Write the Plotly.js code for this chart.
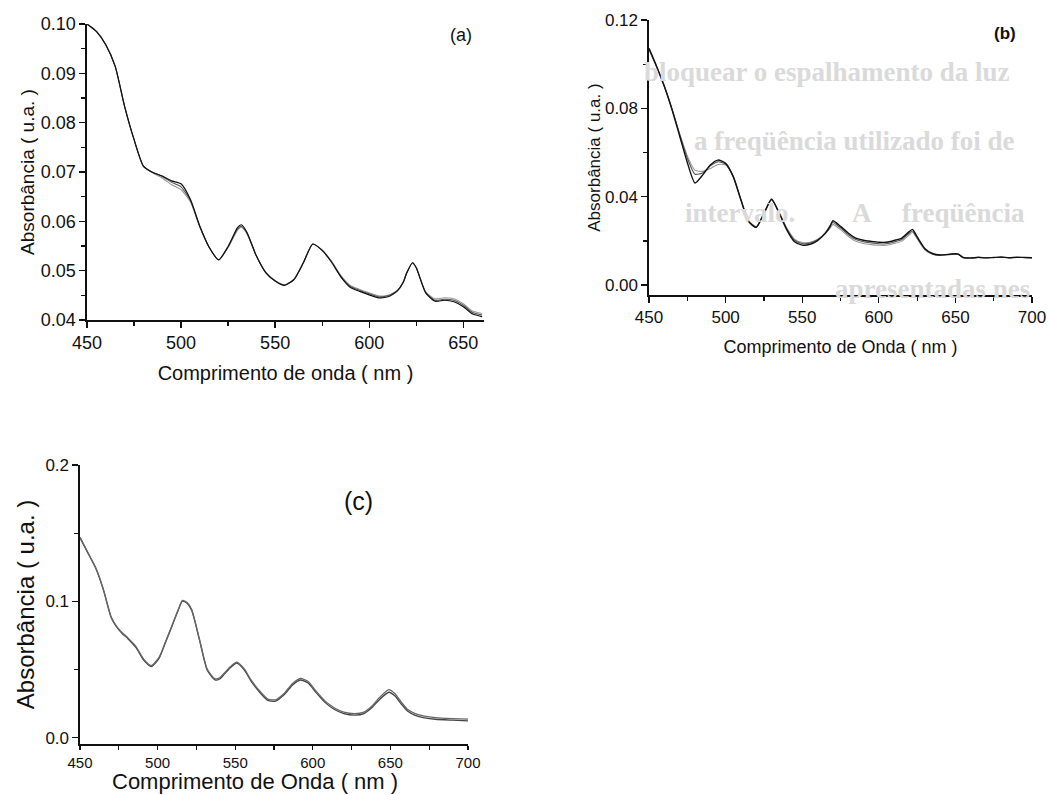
<!DOCTYPE html>
<html>
<head>
<meta charset="utf-8">
<script src="https://cdn.plot.ly/plotly-3.0.1.min.js"></script>
<style>html,body{margin:0;padding:0;background:#fff;}#chart{width:1049px;height:795px;}</style>
</head>
<body>
<div id="chart"></div>
<script>
// ---------- (a) ----------
const wlA = [450,455,460,465,470,475,480,485,490,495,500,505,510,515,520,525,530,532,535,540,545,550,555,560,565,570,575,580,585,590,595,600,605,610,615,618,620,623,625,630,635,640,645,650,655,660];
const absA1 = [0.1000,0.0985,0.0958,0.0914,0.0833,0.0766,0.0712,0.0699,0.0692,0.0682,0.0676,0.0644,0.0590,0.0547,0.0522,0.0549,0.0587,0.0593,0.0578,0.0530,0.0496,0.0479,0.0470,0.0482,0.0516,0.0554,0.0541,0.0517,0.0487,0.0466,0.0458,0.0451,0.0445,0.0447,0.0459,0.0476,0.0496,0.0516,0.0506,0.0455,0.0438,0.0440,0.0437,0.0427,0.0412,0.0407];
const absA2 = [0.1000,0.0985,0.0958,0.0914,0.0833,0.0766,0.0712,0.0699,0.0691,0.0679,0.0670,0.0642,0.0589,0.0547,0.0522,0.0548,0.0584,0.0590,0.0576,0.0530,0.0496,0.0479,0.0471,0.0482,0.0516,0.0554,0.0541,0.0518,0.0488,0.0468,0.0460,0.0453,0.0447,0.0449,0.0460,0.0476,0.0496,0.0516,0.0506,0.0456,0.0440,0.0442,0.0440,0.0430,0.0415,0.0410];
const absA3 = [0.1000,0.0985,0.0958,0.0914,0.0833,0.0766,0.0712,0.0698,0.0688,0.0674,0.0664,0.0639,0.0588,0.0547,0.0522,0.0547,0.0582,0.0588,0.0575,0.0530,0.0497,0.0480,0.0471,0.0482,0.0516,0.0554,0.0542,0.0519,0.0490,0.0470,0.0462,0.0455,0.0449,0.0450,0.0460,0.0476,0.0496,0.0515,0.0506,0.0457,0.0443,0.0445,0.0443,0.0433,0.0418,0.0413];

// ---------- (b) ----------
const wlB = [450,455,460,465,470,475,480,485,490,495,500,505,510,515,520,525,530,535,540,545,550,555,560,565,568,570,575,580,585,590,595,600,605,610,615,620,622,625,630,635,640,645,650,652,655,660,665,670,675,680,685,690,695,700];
const absB1 = [0.1072,0.0990,0.0900,0.0795,0.0675,0.0555,0.0462,0.0498,0.0544,0.0566,0.0551,0.0491,0.0385,0.0287,0.0261,0.0325,0.0390,0.0325,0.0249,0.0196,0.0181,0.0184,0.0201,0.0234,0.0262,0.0291,0.0266,0.0236,0.0213,0.0203,0.0198,0.0194,0.0194,0.0202,0.0213,0.0243,0.0252,0.0219,0.0166,0.0143,0.0136,0.0139,0.0142,0.0140,0.0125,0.0122,0.0126,0.0123,0.0125,0.0127,0.0124,0.0126,0.0125,0.0124];
const absB2 = [0.1068,0.0988,0.0900,0.0797,0.0682,0.0575,0.0502,0.0508,0.0540,0.0558,0.0548,0.0490,0.0386,0.0290,0.0263,0.0323,0.0386,0.0326,0.0254,0.0203,0.0188,0.0190,0.0205,0.0236,0.0268,0.0283,0.0259,0.0229,0.0206,0.0196,0.0191,0.0187,0.0187,0.0195,0.0206,0.0236,0.0245,0.0214,0.0163,0.0141,0.0135,0.0138,0.0141,0.0139,0.0125,0.0124,0.0125,0.0124,0.0125,0.0125,0.0124,0.0125,0.0125,0.0124];
const absB3 = [0.1065,0.0985,0.0898,0.0798,0.0686,0.0585,0.0520,0.0515,0.0528,0.0546,0.0545,0.0492,0.0388,0.0292,0.0265,0.0322,0.0384,0.0328,0.0258,0.0208,0.0193,0.0194,0.0206,0.0232,0.0255,0.0275,0.0251,0.0221,0.0198,0.0188,0.0183,0.0180,0.0180,0.0188,0.0199,0.0228,0.0238,0.0210,0.0160,0.0140,0.0134,0.0137,0.0140,0.0138,0.0125,0.0124,0.0125,0.0124,0.0125,0.0125,0.0124,0.0125,0.0125,0.0124];

// ---------- (c) ----------
const wlC = [450,455,460,465,470,473,477,481,486,491,496,501,505,509,513,516,519,522,527,532,537,540,543,547,551,556,560,565,571,576,582,587,592,597,602,608,614,620,627,633,638,643,649,653,657,661,666,672,679,690,700];
const absC1 = [0.1470,0.1360,0.1250,0.1090,0.0888,0.0827,0.0772,0.0731,0.0670,0.0577,0.0530,0.0592,0.0702,0.0816,0.0932,0.1007,0.0992,0.0939,0.0722,0.0502,0.0433,0.0440,0.0475,0.0523,0.0555,0.0503,0.0428,0.0353,0.0284,0.0279,0.0331,0.0398,0.0435,0.0413,0.0344,0.0269,0.0219,0.0189,0.0178,0.0189,0.0232,0.0295,0.0354,0.0323,0.0262,0.0209,0.0178,0.0159,0.0148,0.0141,0.0137];
const absC2 = [0.1466,0.1356,0.1246,0.1086,0.0884,0.0823,0.0767,0.0725,0.0663,0.0570,0.0522,0.0584,0.0696,0.0811,0.0927,0.1002,0.0987,0.0933,0.0716,0.0495,0.0424,0.0431,0.0467,0.0515,0.0547,0.0495,0.0420,0.0344,0.0274,0.0269,0.0321,0.0388,0.0424,0.0402,0.0333,0.0258,0.0208,0.0178,0.0167,0.0178,0.0220,0.0281,0.0334,0.0306,0.0248,0.0196,0.0165,0.0147,0.0136,0.0129,0.0124];

const FONT = "Liberation Sans, Arial, sans-serif";
function tr(x, y, color, width, xa, ya) {
  return {x: x, y: y, type: 'scatter', mode: 'lines', xaxis: xa, yaxis: ya,
    line: {color: color, width: width, shape: 'spline', smoothing: 0.6}, hoverinfo: 'skip'};
}
const data = [
  tr(wlA, absA3, '#9a9a9a', 1.1, 'x', 'y'),
  tr(wlA, absA2, '#555555', 1.1, 'x', 'y'),
  tr(wlA, absA1, '#111111', 1.2, 'x', 'y'),
  tr(wlB, absB3, '#9a9a9a', 1.1, 'x2', 'y2'),
  tr(wlB, absB2, '#555555', 1.1, 'x2', 'y2'),
  tr(wlB, absB1, '#111111', 1.4, 'x2', 'y2'),
  tr(wlC, absC2, '#444444', 1.3, 'x3', 'y3'),
  tr(wlC, absC1, '#666666', 1.3, 'x3', 'y3')
];

function xax(domain, range, anchor, fs, title, tfs, standoff, tl) {
  return {domain: domain, range: range, anchor: anchor, showgrid: false, zeroline: false,
    showline: true, linecolor: '#111', linewidth: 1.6, mirror: false,
    ticks: 'outside', ticklen: tl || 6, tickwidth: 1.3, tickcolor: '#111', dtick: 50, tick0: 450,
    minor: {dtick: 25, ticks: 'outside', ticklen: 4, tickwidth: 1.2, tickcolor: '#111'},
    tickfont: {family: FONT, size: fs, color: '#111'},
    title: {text: title, font: {family: FONT, size: tfs, color: '#111'}, standoff: standoff}};
}
function yax(domain, range, anchor, dtick, minorD, fmt, fs, title, tfs, standoff) {
  return {domain: domain, range: range, anchor: anchor, showgrid: false, zeroline: false,
    showline: true, linecolor: '#111', linewidth: 1.6, mirror: false,
    ticks: 'outside', ticklen: 6, tickwidth: 1.3, tickcolor: '#111', dtick: dtick, tick0: 0,
    tickformat: fmt,
    minor: {dtick: minorD, ticks: 'outside', ticklen: 4, tickwidth: 1.2, tickcolor: '#111'},
    tickfont: {family: FONT, size: fs, color: '#111'},
    title: {text: title, font: {family: FONT, size: tfs, color: '#111'}, standoff: standoff}};
}

const faint = {family: "Liberation Serif, serif", size: 27, color: '#dadada', weight: 'bold'};
function bg(text, xpx, ypx, anchor) {
  return {text: text, xref: 'paper', yref: 'paper', x: xpx/1049, y: 1-ypx/795,
    xanchor: anchor, yanchor: 'middle', showarrow: false, font: faint};
}
const layout = {
  width: 1049, height: 795,
  margin: {l: 0, r: 0, t: 0, b: 0},
  paper_bgcolor: '#ffffff', plot_bgcolor: 'rgba(0,0,0,0)',
  showlegend: false,
  xaxis: xax([0.0829, 0.4614], [450, 661], 'y', 18, 'Comprimento de onda ( nm )', 20, 14),
  yaxis: yax([0.5975, 0.9698], [0.04, 0.1], 'x', 0.01, 0.005, '.2f', 18, 'Absorbância ( u.a. )', 19, 1),
  xaxis2: xax([0.6187, 0.9838], [450, 700], 'y2', 17, 'Comprimento de Onda ( nm )', 18, 14),
  yaxis2: yax([0.6289, 0.9748], [-0.0045, 0.12], 'x2', 0.04, 0.02, '.2f', 17, 'Absorbância ( u.a. )', 17, 0),
  xaxis3: xax([0.0763, 0.4461], [450, 700], 'y3', 15, '', 24, 4, 4),
  yaxis3: yax([0.0642, 0.4151], [-0.0045, 0.2], 'x3', 0.1, 0.05, '.1f', 17, 'Absorbância ( u.a. )', 24, 4),
  annotations: [
    bg('bloquear o espalhamento da luz', 1012, 72, 'right'),
    bg('a freqüência utilizado foi de', 1017, 141, 'right'),
    bg('intervalo.', 740, 213, 'center'),
    bg('A', 850, 213, 'left'),
    bg('freqüência', 900, 213, 'left'),
    bg('apresentadas nes', 833, 289, 'left'),
    {text: 'Comprimento de Onda ( nm )', xref: 'paper', yref: 'paper', x: 255/1049, y: 0,
      xanchor: 'center', yanchor: 'bottom', showarrow: false, borderpad: 0,
      font: {family: FONT, size: 22, color: '#111'}},
    {text: '(a)', xref: 'paper', yref: 'paper', x: 461/1049, y: 1-35/795, xanchor: 'center', yanchor: 'middle', showarrow: false, font: {family: FONT, size: 18, color: '#111'}},
    {text: '<b>(b)</b>', xref: 'paper', yref: 'paper', x: 1005/1049, y: 1-34/795, xanchor: 'center', yanchor: 'middle', showarrow: false, font: {family: FONT, size: 17, color: '#111'}},
    {text: '(c)', xref: 'paper', yref: 'paper', x: 358/1049, y: 1-501/795, xanchor: 'center', yanchor: 'middle', showarrow: false, font: {family: FONT, size: 25, color: '#111'}}
  ]
};
Plotly.newPlot('chart', data, layout, {displayModeBar: false, staticPlot: true});
</script>
</body>
</html>
